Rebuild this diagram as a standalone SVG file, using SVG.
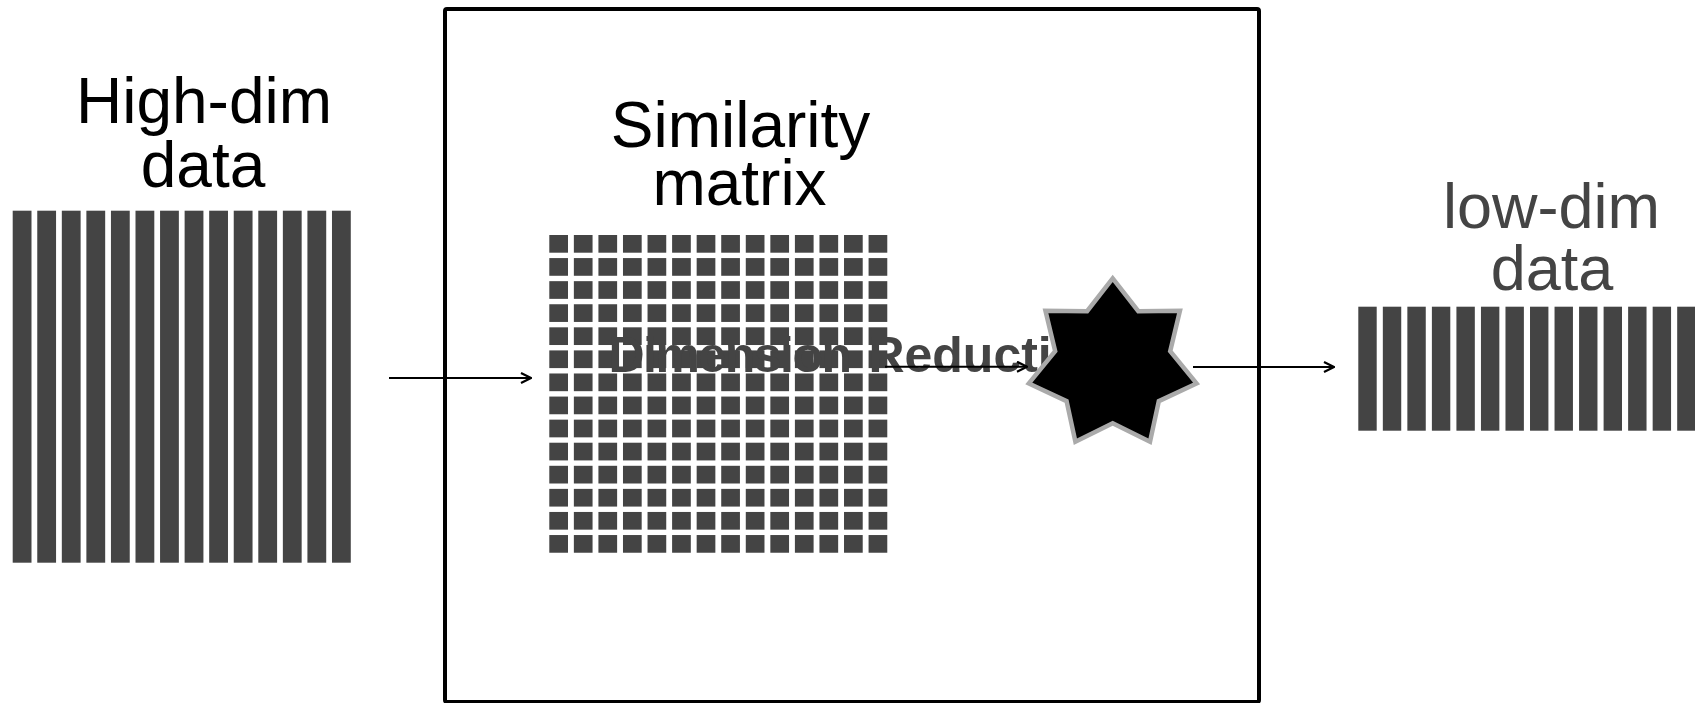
<svg xmlns="http://www.w3.org/2000/svg" width="1695" height="703" viewBox="0 0 1695 703">
<defs>
<style>
.lbl{font-family:"Liberation Sans",Arial,sans-serif;font-size:64px;text-anchor:middle}
.bar{fill:#444444}
.conn{stroke:#000;stroke-width:2;fill:none}
</style>
<marker id="ah" viewBox="0 0 12 12" refX="11" refY="6" markerWidth="12" markerHeight="12" markerUnits="userSpaceOnUse" orient="auto">
<path d="M1,1 L11,6 L1,11" fill="none" stroke="#000" stroke-width="2.2"/>
</marker>
<rect id="hb" class="bar" width="18.8" height="352"/>
<rect id="lb" class="bar" width="18.4" height="124"/>
<rect id="sq" class="bar" width="18.7" height="17.7"/>
<g id="mrow">
<use href="#sq" x="0"/><use href="#sq" x="24.56"/><use href="#sq" x="49.12"/><use href="#sq" x="73.68"/><use href="#sq" x="98.24"/><use href="#sq" x="122.8"/><use href="#sq" x="147.36"/><use href="#sq" x="171.92"/><use href="#sq" x="196.48"/><use href="#sq" x="221.04"/><use href="#sq" x="245.6"/><use href="#sq" x="270.16"/><use href="#sq" x="294.72"/><use href="#sq" x="319.28"/>
</g>
</defs>
<rect width="1695" height="703" fill="#fff"/>

<g id="high-dim-data">
<text class="lbl" x="204" y="123.3">High-dim</text>
<text class="lbl" x="203" y="186.7">data</text>
<g transform="translate(12.7,210.7)">
<use href="#hb" x="0"/><use href="#hb" x="24.56"/><use href="#hb" x="49.12"/><use href="#hb" x="73.68"/><use href="#hb" x="98.24"/><use href="#hb" x="122.8"/><use href="#hb" x="147.36"/><use href="#hb" x="171.92"/><use href="#hb" x="196.48"/><use href="#hb" x="221.04"/><use href="#hb" x="245.6"/><use href="#hb" x="270.16"/><use href="#hb" x="294.72"/><use href="#hb" x="319.28"/>
</g>
</g>

<g id="process-box">
<rect x="445" y="9" width="814" height="693" rx="2" fill="none" stroke="#000" stroke-width="4"/>
</g>

<g id="similarity-matrix">
<text class="lbl" x="740.5" y="146.7">Similarity</text>
<text class="lbl" x="739.5" y="205">matrix</text>
<g transform="translate(549.3,235)">
<use href="#mrow" y="0"/><use href="#mrow" y="23.08"/><use href="#mrow" y="46.16"/><use href="#mrow" y="69.24"/><use href="#mrow" y="92.32"/><use href="#mrow" y="115.4"/><use href="#mrow" y="138.48"/><use href="#mrow" y="161.56"/><use href="#mrow" y="184.64"/><use href="#mrow" y="207.72"/><use href="#mrow" y="230.8"/><use href="#mrow" y="253.88"/><use href="#mrow" y="276.96"/><use href="#mrow" y="300.04"/>
</g>
<text y="371.7" font-family="Liberation Sans, Arial, sans-serif" font-size="50" font-weight="bold" fill="#444444"><tspan x="608.4" letter-spacing="-1.5">Dimension</tspan><tspan x="868.4">Reduction</tspan></text>
</g>

<g id="connectors">
<line class="conn" x1="389" y1="378" x2="531" y2="378" marker-end="url(#ah)"/>
<line class="conn" x1="885" y1="366.7" x2="1027" y2="366.7" marker-end="url(#ah)"/>
<line class="conn" x1="1193" y1="367" x2="1334" y2="367" marker-end="url(#ah)"/>
</g>

<g id="reduction-star">
<polygon points="1112.7,278.3 1138.3,311.14 1179.94,310.68 1170.22,351.17 1196.54,383.44 1158.83,401.09 1150.02,441.79 1112.7,423.3 1075.38,441.79 1066.57,401.09 1028.86,383.44 1055.18,351.17 1045.46,310.68 1087.1,311.14" fill="#000" stroke="#aaaaaa" stroke-width="4.5" stroke-linejoin="miter"/>
</g>

<g id="low-dim-data">
<text class="lbl" x="1551.5" y="228.3" fill="#444444" style="font-size:63px">low-dim</text>
<text class="lbl" x="1552" y="290" fill="#444444" style="font-size:63px">data</text>
<g transform="translate(1358.3,306.7)">
<use href="#lb" x="0"/><use href="#lb" x="24.53"/><use href="#lb" x="49.06"/><use href="#lb" x="73.59"/><use href="#lb" x="98.12"/><use href="#lb" x="122.65"/><use href="#lb" x="147.18"/><use href="#lb" x="171.71"/><use href="#lb" x="196.24"/><use href="#lb" x="220.77"/><use href="#lb" x="245.3"/><use href="#lb" x="269.83"/><use href="#lb" x="294.36"/><use href="#lb" x="318.89"/>
</g>
</g>
</svg>
